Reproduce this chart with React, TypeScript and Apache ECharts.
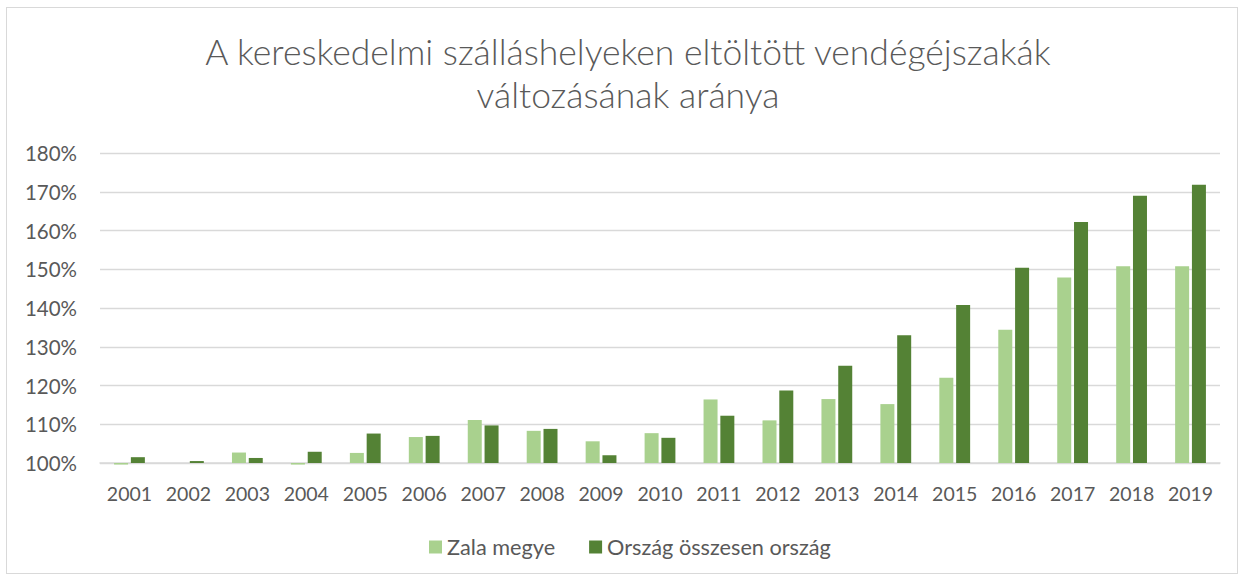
import React, { useEffect, useRef } from "react";
import * as echarts from "echarts";

const years = ["2001","2002","2003","2004","2005","2006","2007","2008","2009","2010","2011","2012","2013","2014","2015","2016","2017","2018","2019"];
const zala = [99.6, 100.0, 102.7, 99.6, 102.6, 106.7, 111.1, 108.3, 105.6, 107.7, 116.4, 111.0, 116.5, 115.2, 122.0, 134.4, 147.9, 150.8, 150.8];
const orszag = [101.5, 100.5, 101.3, 102.9, 107.6, 107.0, 109.7, 108.8, 102.0, 106.5, 112.2, 118.7, 125.1, 133.0, 140.8, 150.4, 162.2, 169.0, 171.8];
const seriesNames = ["Zala megye", "Ország összesen ország"];
const titleText = "A kereskedelmi szálláshelyeken eltöltött vendégéjszakák\nváltozásának aránya";

const FONT = "Lato";
const TEXT = "#595959";

export default function App() {
  const ref = useRef<HTMLDivElement>(null);
  useEffect(() => {
    document.body.style.margin = "0";
    const chart = echarts.init(ref.current!, null, { renderer: "svg" });
    chart.setOption({
      animation: false,
      textStyle: { fontFamily: FONT },
      title: {
        text: titleText,
        left: 623,
        textAlign: "center",
        top: 25,
        textStyle: { fontFamily: FONT, fontSize: 35.5, fontWeight: 300, color: TEXT, lineHeight: 43 },
      },
      legend: {
        top: 531,
        left: 424,
        itemWidth: 13,
        itemHeight: 13,
        itemGap: 34,
        icon: "rect",
        textStyle: { fontFamily: FONT, fontSize: 21.7, color: TEXT },
      },
      grid: { left: 100, right: 25, top: 153, bottom: 118, containLabel: false },
      xAxis: {
        type: "category",
        data: years,
        axisLine: { lineStyle: { color: "#d9d9d9", width: 1.5 } },
        axisTick: { show: false },
        axisLabel: { color: TEXT, fontSize: 19.5, margin: 20, fontFamily: FONT },
      },
      yAxis: {
        type: "value",
        min: 100,
        max: 180,
        interval: 10,
        startValue: 100,
        axisLabel: { color: TEXT, fontSize: 20.5, margin: 23, fontFamily: FONT, formatter: (v: number) => v + "%" },
        splitLine: { lineStyle: { color: "#d9d9d9", width: 1.3 } },
        axisLine: { show: false },
        axisTick: { show: false },
      },
      series: [
        {
          name: seriesNames[0],
          type: "bar",
          data: zala,
          barWidth: 14,
          barGap: "20%",
          clip: false,
          itemStyle: { color: "#A9D18E" },
        },
        {
          name: seriesNames[1],
          type: "bar",
          data: orszag,
          barWidth: 14,
          barGap: "20%",
          clip: false,
          itemStyle: { color: "#548235" },
        },
      ],
    });
    return () => chart.dispose();
  }, []);
  return (
    <div style={{ position: "relative", width: 1245, height: 581, background: "#fff" }}>
      <div
        style={{
          position: "absolute",
          left: 6,
          top: 7,
          width: 1232,
          height: 567,
          border: "1px solid #d9d9d9",
          boxSizing: "border-box",
        }}
      />
      <div ref={ref} style={{ position: "absolute", left: 0, top: 0, width: 1245, height: 581 }} />
    </div>
  );
}
